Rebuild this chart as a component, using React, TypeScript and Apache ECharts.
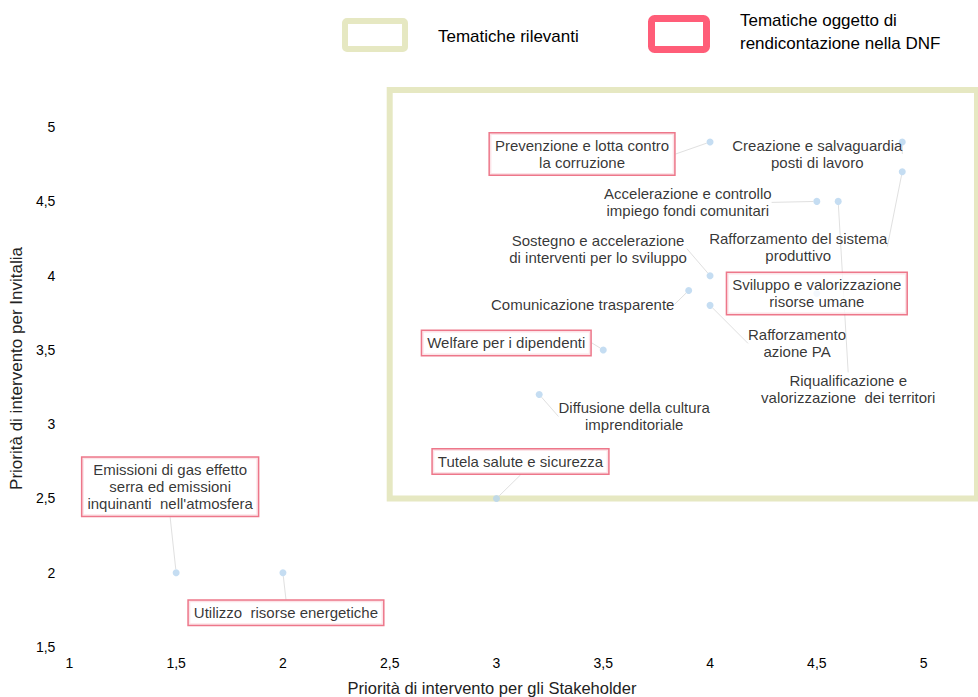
import React, { useEffect, useRef } from "react";
import * as echarts from "echarts";

// Topic names (label text)
const topicNames: string[] = [
  "Prevenzione e lotta contro\nla corruzione",
  "Creazione e salvaguardia\nposti di lavoro",
  "Rafforzamento del sistema\nproduttivo",
  "Accelerazione e controllo\nimpiego fondi comunitari",
  "Riqualificazione e\nvalorizzazione  dei territori",
  "Sostegno e accelerazione\ndi interventi per lo sviluppo",
  "Comunicazione trasparente",
  "Rafforzamento\nazione PA",
  "Sviluppo e valorizzazione\nrisorse umane",
  "Welfare per i dipendenti",
  "Diffusione della cultura\nimprenditoriale",
  "Tutela salute e sicurezza",
  "Emissioni di gas effetto\nserra ed emissioni\ninquinanti  nell'atmosfera",
  "Utilizzo  risorse energetiche",
];
// Priorità di intervento per gli Stakeholder
const stakeholderPriority: number[] = [4, 4.9, 4.9, 4.5, 4.6, 4, 3.9, 4, 4.5, 3.5, 3.2, 3, 1.5, 2];
// Priorità di intervento per Invitalia
const invitaliaPriority: number[] = [4.9, 4.9, 4.7, 4.5, 4.5, 4, 3.9, 3.8, 3.88, 3.5, 3.2, 2.5, 2, 2];
// Tematiche oggetto di rendicontazione nella DNF
const inDNF: boolean[] = [true, false, false, false, false, false, false, false, true, true, false, true, true, true];

const xTicks = [1, 1.5, 2, 2.5, 3, 3.5, 4, 4.5, 5];
const yTicks = [1.5, 2, 2.5, 3, 3.5, 4, 4.5, 5];
const relevantArea = { from: [2.5, 2.5], to: [5.25, 5.25] };

// label displacement (pixels) from each point
const labelShift: number[][] = [
  [-128, 12], [-85, 12], [-104, 75], [-129, 1], [10, 188], [-112, -27], [-106, 14],
  [87, 38], [0, 0], [-97, -7], [95, 22], [24, -37], [-6, -86], [3, 40],
];

const fmt = (v: number) => (v > 5 ? "" : String(v).replace(".", ","));

export default function App() {
  const ref = useRef<HTMLDivElement>(null);
  useEffect(() => {
    if (!ref.current) return;
    const chart = echarts.init(ref.current, null, { renderer: "svg" });
    const font = "'Liberation Sans', Arial, sans-serif";
    const data = topicNames.map((name, i) => ({
      name,
      value: [stakeholderPriority[i], invitaliaPriority[i]],
      label: inDNF[i]
        ? {
            backgroundColor: "#ffffff",
            borderColor: "#e8556d",
            borderWidth: 1.5,
            padding: [4, 5, 3, 5],
          }
        : {},
      labelLine: { show: !(labelShift[i][0] === 0 && labelShift[i][1] === 0) },
    }));
    chart.setOption({
      animation: false,
      textStyle: { fontFamily: font },
      grid: { left: 66, right: 1, top: 90, bottom: 50 },
      xAxis: {
        type: "value",
        min: 1,
        max: 5.25,
        interval: 0.5,
        axisLine: { show: false },
        axisTick: { show: false },
        splitLine: { show: false },
        axisLabel: {
          formatter: fmt,
          color: "#000",
          fontSize: 14,
          margin: 9,
          customValues: xTicks,
        },
      },
      yAxis: {
        type: "value",
        min: 1.5,
        max: 5.25,
        interval: 0.5,
        name: "Priorità di intervento per Invitalia",
        nameLocation: "middle",
        nameGap: 38,
        nameTextStyle: { color: "#222", fontSize: 17, fontFamily: font },
        axisLine: { show: false },
        axisTick: { show: false },
        splitLine: { show: false },
        axisLabel: {
          formatter: fmt,
          color: "#000",
          fontSize: 14,
          margin: 14,
          customValues: yTicks,
        },
      },
      graphic: [
        {
          type: "rect",
          shape: { x: 345, y: 21, width: 60, height: 28, r: 2 },
          style: { fill: "#ffffff", stroke: "#e6e8c2", lineWidth: 6 },
        },
        {
          type: "text",
          x: 438,
          y: 36,
          style: {
            text: "Tematiche rilevanti",
            font: `17px ${font}`,
            fill: "#000",
            verticalAlign: "middle",
          },
        },
        {
          type: "rect",
          shape: { x: 651.5, y: 18.5, width: 55, height: 31, r: 3 },
          style: { fill: "#ffffff", stroke: "#ff5d78", lineWidth: 7 },
        },
        {
          type: "text",
          x: 740,
          y: 32,
          style: {
            text: "Tematiche oggetto di\nrendicontazione nella DNF",
            font: `17px ${font}`,
            lineHeight: 23,
            fill: "#000",
            verticalAlign: "middle",
          },
        },
        {
          type: "text",
          x: 492,
          y: 688,
          style: {
            text: "Priorità di intervento per gli Stakeholder",
            font: `16.5px ${font}`,
            fill: "#222",
            align: "center",
            verticalAlign: "middle",
          },
        },
      ],
      series: [
        {
          type: "scatter",
          symbolSize: 7,
          itemStyle: { color: "#b7d5ef" },
          data,
          label: {
            show: true,
            position: "inside",
            formatter: (p: any) => p.name,
            color: "#000",
            fontSize: 15,
            lineHeight: 17,
            align: "center",
            verticalAlign: "middle",
            fontFamily: font,
          },
          labelLine: {
            show: true,
            lineStyle: { color: "#e0e0e0", width: 1 },
          },
          labelLayout: (params: any) => ({
            dx: labelShift[params.dataIndex][0],
            dy: labelShift[params.dataIndex][1],
          }),
          markArea: {
            silent: true,
            itemStyle: {
              color: "rgba(0,0,0,0)",
              borderColor: "#e6e8c2",
              borderWidth: 6,
            },
            data: [
              [
                { coord: relevantArea.from },
                { coord: relevantArea.to },
              ],
            ],
          },
        },
      ],
    });
    return () => chart.dispose();
  }, []);
  return (
    <div
      ref={ref}
      style={{ position: "fixed", left: 0, top: 0, width: 978, height: 697, background: "#fff" }}
    />
  );
}
